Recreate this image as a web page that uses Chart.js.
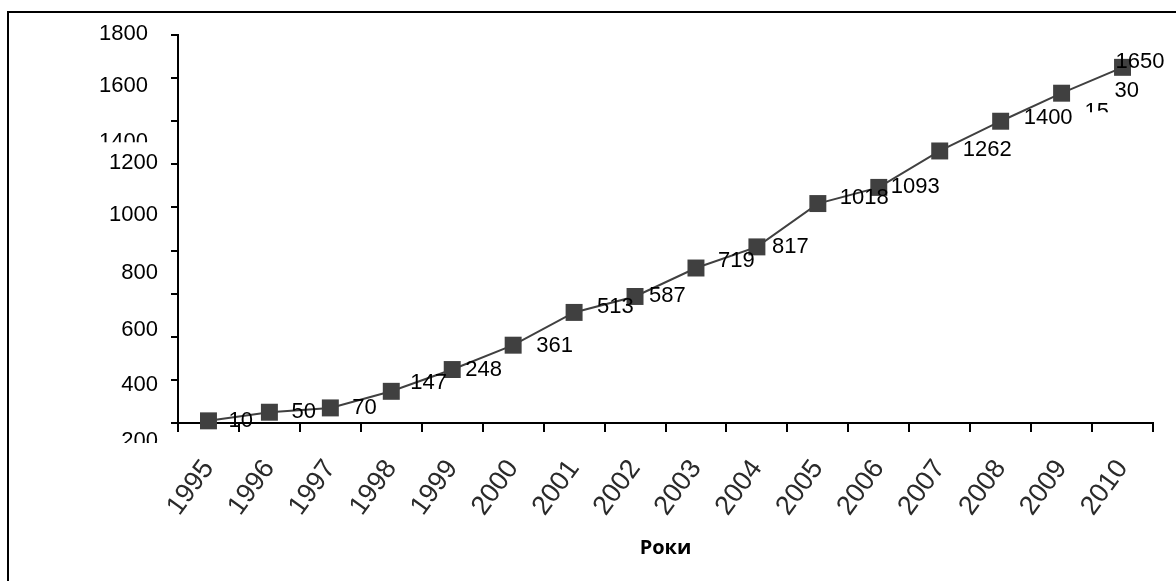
<!DOCTYPE html>
<html>
<head>
<meta charset="utf-8">
<title>Роки</title>
<script src="https://cdn.jsdelivr.net/npm/chart.js@4/dist/chart.umd.min.js"></script>
<style>
  html, body { margin: 0; padding: 0; background: #ffffff; }
  canvas { display: block; }
</style>
</head>
<body>
<canvas id="chart" width="1176" height="581"></canvas>
<script>
// Years on the horizontal axis
const years = ['1995', '1996', '1997', '1998', '1999', '2000', '2001', '2002',
               '2003', '2004', '2005', '2006', '2007', '2008', '2009', '2010'];

// Yearly values
const values = [10, 50, 70, 147, 248, 361, 513, 587, 719, 817, 1018, 1093, 1262, 1400, 1530, 1650];

// Text of the vertical axis labels
const axisLabels = ['1800', '1600', '1400', '1200', '1000', '800', '600', '400', '200'];

// Vertical axis range
const yMin = 0;
const yMax = 1800;
const yStep = 200;

// Layout of the vertical axis labels: level on the value scale, right inset, optional clip below centre
const axisLabelLevel = [1804, 1563, 1303, 1208, 965, 698, 434, 176, -83];
const axisLabelInset = [30, 30, 30, 20, 20, 20, 20, 20, 20];
const axisLabelClip  = [null, null, 0, null, null, null, null, null, 2];

// Layout of the value labels: [dx, dy] from the marker; the 2009 label is drawn in two pieces
const valueLabelShift = [[20, 0], [22, 0], [22, 0], [19, -8], [13, 0], [23, 1], [23, -5], [14, -1],
                         [22, -7], [15, 0], [22, -6], [12, 0], [23, -1], [23, -3], null, [-7, -5]];
const splitLabel = { index: 14, pieces: [
  { from: 0, to: 2, dx: 23, dy: 19, clip: 0 },
  { from: 2, to: 4, dx: 53, dy: -2, clip: null }
]};

const FONT = "'Liberation Sans', Arial, sans-serif";

function drawClippedText(ctx, text, x, y, clip) {
  ctx.save();
  if (clip !== null && clip !== undefined) {
    ctx.beginPath();
    ctx.rect(0, 0, ctx.canvas.width, y + clip);
    ctx.clip();
  }
  ctx.fillText(text, x, y);
  ctx.restore();
}

// Outer frame (left and top edges)
const framePlugin = {
  id: 'frame',
  beforeDraw(chart) {
    const ctx = chart.ctx;
    ctx.save();
    ctx.strokeStyle = '#000000';
    ctx.lineWidth = 2;
    ctx.beginPath();
    ctx.moveTo(8, chart.height);
    ctx.lineTo(8, 12);
    ctx.lineTo(chart.width, 12);
    ctx.stroke();
    ctx.restore();
  }
};

// Vertical axis labels
const axisLabelPlugin = {
  id: 'axisLabels',
  afterDraw(chart) {
    const ctx = chart.ctx;
    const y = chart.scales.y;
    ctx.save();
    ctx.font = '22px ' + FONT;
    ctx.fillStyle = '#000000';
    ctx.textAlign = 'right';
    ctx.textBaseline = 'middle';
    axisLabels.forEach((t, i) => {
      const py = y.getPixelForValue(axisLabelLevel[i]);
      drawClippedText(ctx, t, y.right - axisLabelInset[i], py, axisLabelClip[i]);
    });
    ctx.restore();
  }
};

// Value labels beside the markers
const valueLabelPlugin = {
  id: 'valueLabels',
  afterDatasetsDraw(chart) {
    const ctx = chart.ctx;
    const meta = chart.getDatasetMeta(0);
    ctx.save();
    ctx.font = '22px ' + FONT;
    ctx.fillStyle = '#000000';
    ctx.textAlign = 'left';
    ctx.textBaseline = 'middle';
    meta.data.forEach((pt, i) => {
      const text = String(values[i]);
      if (i === splitLabel.index) {
        splitLabel.pieces.forEach(p => {
          drawClippedText(ctx, text.slice(p.from, p.to), pt.x + p.dx, pt.y + p.dy, p.clip);
        });
        return;
      }
      const s = valueLabelShift[i];
      ctx.fillText(text, pt.x + s[0], pt.y + s[1]);
    });
    ctx.restore();
  }
};

new Chart(document.getElementById('chart'), {
  type: 'line',
  data: {
    labels: years,
    datasets: [{
      data: values,
      borderColor: '#404040',
      borderWidth: 2,
      tension: 0,
      pointStyle: 'rect',
      pointRadius: 12,
      pointHoverRadius: 12,
      pointBackgroundColor: '#404040',
      pointBorderColor: '#404040',
      pointBorderWidth: 0,
      clip: false
    }]
  },
  options: {
    responsive: false,
    animation: false,
    devicePixelRatio: 1,
    events: [],
    layout: { padding: { top: 35, right: 23, left: 0, bottom: 0 } },
    plugins: {
      legend: { display: false },
      tooltip: { enabled: false }
    },
    scales: {
      x: {
        offset: true,
        grid: { offset: true, drawOnChartArea: false, tickLength: 9, color: '#000000', lineWidth: 2 },
        border: { display: true, color: '#000000', width: 2 },
        ticks: {
          autoSkip: false,
          minRotation: 54,
          maxRotation: 54,
          padding: 22,
          color: '#2a2a2a',
          font: { family: FONT, size: 27 }
        },
        title: {
          display: true,
          text: 'Роки',
          color: '#000000',
          font: { family: "'Open Sans', 'DejaVu Sans', sans-serif", size: 20, weight: 'bold' },
          padding: { top: 0, bottom: 21 }
        },
        afterFit(scale) { scale.height = 158; }
      },
      y: {
        min: yMin,
        max: yMax,
        ticks: { stepSize: yStep, display: false },
        grid: { drawOnChartArea: false, tickLength: 7, color: '#000000', lineWidth: 2 },
        border: { display: true, color: '#000000', width: 2 },
        afterFit(scale) { scale.width = 178; }
      }
    }
  },
  plugins: [framePlugin, axisLabelPlugin, valueLabelPlugin]
});
</script>
</body>
</html>
